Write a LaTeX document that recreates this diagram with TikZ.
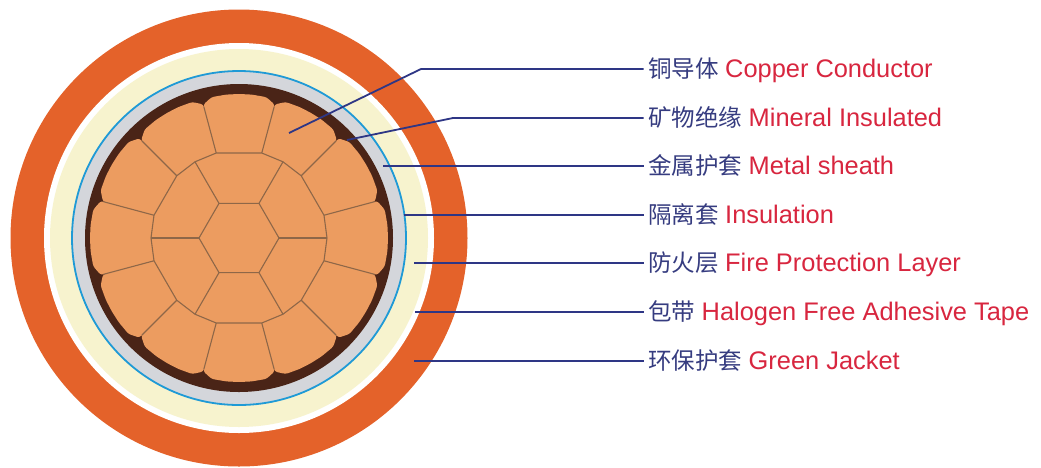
\documentclass[tikz,border=0pt]{standalone}
\usepackage{fontspec}
\setmainfont{Liberation Sans}
\newfontfamily\cjkfont{Noto Sans CJK SC}

\definecolor{jacket}{HTML}{E4622A}
\definecolor{fireband}{HTML}{F7F3CE}
\definecolor{sheath}{HTML}{D4D6DB}
\definecolor{insline}{HTML}{1F9AD6}
\definecolor{mineral}{HTML}{4A2417}
\definecolor{copper}{HTML}{EC9C60}
\definecolor{seamc}{HTML}{8E6748}
\definecolor{leadc}{HTML}{2E3685}
\definecolor{zhc}{HTML}{363C80}
\definecolor{enc}{HTML}{D8263F}

\newcommand\zhtext[1]{{\cjkfont\fontsize{23.5}{28}\selectfont\color{zhc}#1}}
\newcommand\entext[1]{{\color{enc}#1}}

\tikzset{
  seam/.style={draw=seamc, line width=1.1pt, line join=round},
  leader/.style={draw=leadc, line width=1.8pt},
  layerlabel/.style={anchor=base west, inner xsep=4.5pt, inner ysep=0pt,
    font=\fontsize{25.4}{30}\selectfont},
}

\begin{document}
\begin{tikzpicture}[x=1pt,y=-1pt]
\useasboundingbox[fill=white] (0,0) rectangle (1041,467);

% cable cross-section, centred on the conductor
\begin{scope}[shift={(239,238)}]
  % green jacket and halogen-free tape gap
  \fill[jacket] (0,0) circle (228.5pt);
  \fill[white] (0,0) circle (195pt);
  % fire protection layer
  \fill[fireband] (0,0) circle (189pt);
  % insulation (blue ring) and metal sheath
  \fill[sheath] (0,0) circle (167pt);
  \draw[insline, line width=1.8pt] (0,0) circle (167pt);
  % mineral insulation
  \fill[mineral] (0,0) circle (154pt);

  % copper conductor: core fill
  \fill[copper] (0,0) circle (125pt);
  % outer ring of twelve sectors
  \foreach \a in {0,30,...,330}{
    \pgfmathsetmacro\ro{144+5*pow(cos(\a),4)}
    \fill[copper, rounded corners=2.5pt]
      (\a-15:88) -- (\a-15:\ro-6) -- (\a-11:\ro-0.5) -- (\a-5:\ro)
      -- (\a:\ro) -- (\a+5:\ro) -- (\a+11:\ro-0.5) -- (\a+15:\ro-6)
      -- (\a+15:88) -- cycle;
  }
  % seams between the strands
  \draw[seam] (0:40) -- (60:40) -- (120:40) -- (180:40) -- (240:40) -- (300:40) -- cycle;
  \foreach \a in {0,60,...,300}
    \draw[seam] (\a:40) -- (\a:88);
  \draw[seam] (0:88) -- (15:88) -- (45:88) -- (60:88) -- (75:88) -- (105:88)
    -- (120:88) -- (135:88) -- (165:88) -- (180:88) -- (195:88) -- (225:88)
    -- (240:88) -- (255:88) -- (285:88) -- (300:88) -- (315:88) -- (345:88) -- cycle;
  \foreach \b in {15,45,...,345}{
    \pgfmathsetmacro\rs{144+5*pow(cos(\b),4)-8}
    \draw[seam] (\b:88) -- (\b:\rs);
  }
\end{scope}

% layer labels
\node[layerlabel] (l1) at (643.5,77.5) {\zhtext{铜导体}\hspace{6.5pt}\entext{Copper Conductor}};
\node[layerlabel] (l2) at (643.5,126.5) {\zhtext{矿物绝缘}\hspace{6.5pt}\entext{Mineral Insulated}};
\node[layerlabel] (l3) at (643.5,174.5) {\zhtext{金属护套}\hspace{6.5pt}\entext{Metal sheath}};
\node[layerlabel] (l4) at (643.5,223.5) {\zhtext{隔离套}\hspace{6.5pt}\entext{Insulation}};
\node[layerlabel] (l5) at (643.5,271.5) {\zhtext{防火层}\hspace{6.5pt}\entext{Fire Protection Layer}};
\node[layerlabel] (l6) at (643.5,320.5) {\zhtext{包带}\hspace{6.5pt}\entext{Halogen Free Adhesive Tape}};
\node[layerlabel] (l7) at (643.5,369.5) {\zhtext{环保护套}\hspace{6.5pt}\entext{Green Jacket}};

% leader points on the section
\coordinate (s1) at (289,133);
\coordinate (k1) at (421,69);
\coordinate (s2) at (347,140);
\coordinate (k2) at (453,118);
\coordinate (s3) at (383,166);
\coordinate (s4) at (404,215);
\coordinate (s5) at (414,263);
\coordinate (s6) at (415,312);
\coordinate (s7) at (414,361);

\draw[leader] (s1) -- (k1) -- (l1.west |- k1);
\draw[leader] (s2) -- (k2) -- (l2.west |- k2);
\draw[leader] (s3) -- (l3.west |- s3);
\draw[leader] (s4) -- (l4.west |- s4);
\draw[leader] (s5) -- (l5.west |- s5);
\draw[leader] (s6) -- (l6.west |- s6);
\draw[leader] (s7) -- (l7.west |- s7);
\end{tikzpicture}
\end{document}
